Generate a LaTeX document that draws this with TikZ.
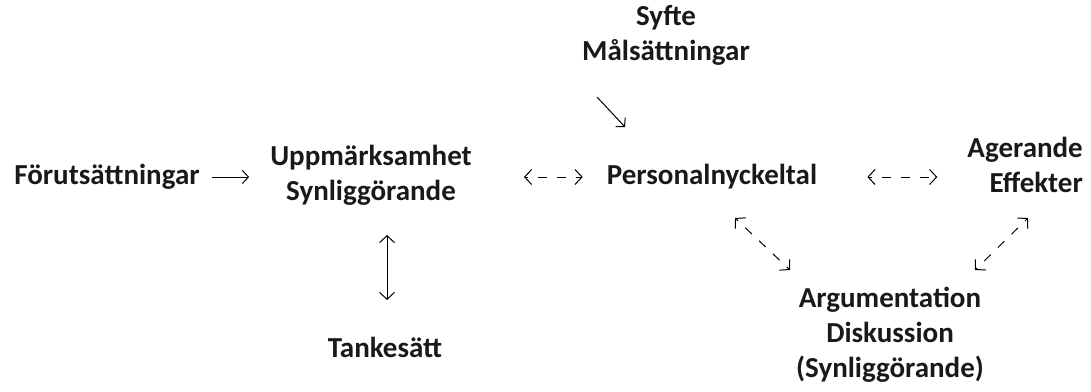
\documentclass[tikz,border=0pt]{standalone}
\usepackage{fontspec}
\setmainfont{Carlito}
\usetikzlibrary{arrows.meta}
\begin{document}
\begin{tikzpicture}[x=1pt, y=-1pt,
  txt/.style = {font=\bfseries\fontsize{29}{35}\selectfont, align=center, inner sep=0pt, text=black!90},
  pil/.style = {line width=1pt, {Straight Barb[length=7pt,width=15pt]}-{Straight Barb[length=7pt,width=15pt]}},
  enkel/.style = {line width=1pt, -{Straight Barb[length=6pt,width=13pt]}},
  streck/.style = {dash pattern=on 9pt off 10pt, dash phase=6pt}]
\useasboundingbox (0,0) rectangle (1091,391);
\node[txt] (fore) at (107,177) {Förutsättningar};
\node[txt] (upp) at (371,175) {Uppmärksamhet\\Synliggörande};
\node[txt] (mal) at (666,35) {Syfte\\Målsättningar};
\node[txt] (pers) at (712,177) {Personalnyckeltal};
\node[txt, align=right, anchor=east] (age) at (1083,165) {Agerande\\Effekter};
\node[txt] (arg) at (890,335) {Argumentation\\Diskussion\\(Synliggörande)};
\node[txt] (tank) at (385,347) {Tankesätt};

\draw[enkel] ([xshift=12pt]fore.east) -- ([xshift=-21pt]fore.east -| upp.west);
\draw[pil] ([shift={(16,60)}]upp.center) -- ([shift={(2,-47)}]tank.center);
\draw[pil, streck] ([xshift=52pt]upp.east |- pers.west) -- ([xshift=-24pt]pers.west);
\draw[pil, streck] ([xshift=50pt]pers.east) -- ([xshift=-30pt]pers.east -| age.west);
\draw[enkel] ([shift={(-69,62)}]mal.center) -- ([shift={(-87,-50)}]pers.center);
\draw[pil, streck] ([shift={(23,41)}]pers.center) -- ([shift={(-100,-65)}]arg.center);
\draw[pil, streck] ([shift={(-55,53)}]age.east) -- ([shift={(85,-65)}]arg.center);
\end{tikzpicture}
\end{document}
